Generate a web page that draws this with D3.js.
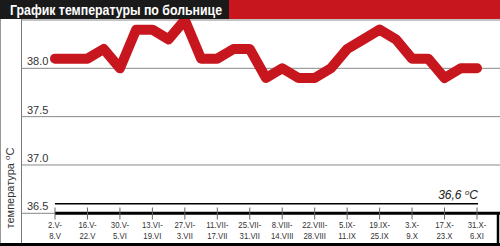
<!DOCTYPE html>
<html>
<head>
<meta charset="utf-8">
<script src="https://cdn.jsdelivr.net/npm/d3@7"></script>
<style>
  body { margin: 0; background: #fff; }
  text { font-family: "Liberation Sans", Arial, sans-serif; }
</style>
</head>
<body>
<div id="chart"></div>
<script>
// weekly temperature, 2.V .. 6.XI
const temps = [38.1, 38.1, 38.1, 38.2, 38.0, 38.4, 38.4, 38.3, 38.5, 38.1, 38.1, 38.2, 38.2, 37.9,
  38.0, 37.9, 37.9, 38.0, 38.2, 38.3, 38.4, 38.3, 38.1, 38.1, 37.9, 38.0, 38.0];
const weekLabels = [
  ["2.V-", "8.V"], ["16.V-", "22.V"], ["30.V-", "5.VI"], ["13.VI-", "19.VI"], ["27.VI-", "3.VII"],
  ["11.VII-", "17.VII"], ["25.VII-", "31.VII"], ["8.VIII-", "14.VIII"], ["22.VIII-", "28.VIII"],
  ["5.IX-", "11.IX"], ["19.IX-", "25.IX"], ["3.X-", "9.X"], ["17.X-", "23.X"], ["31.X-", "6.XI"]
];
const yTicks = [36.5, 37.0, 37.5, 38.0];
const normal = 36.6;

const w = 500, h = 246;

let svg = d3.select("#chart").append("svg")
  .attr("width", w)
  .attr("height", h);

let x = d3.scaleLinear().domain([0, temps.length - 1]).range([55, 477]);
let y = d3.scaleLinear().domain([36.5, 38.5]).range([213.3, 20]);

// frame
svg.append("line").attr("x1", 0.5).attr("x2", 0.5).attr("y1", 19).attr("y2", h)
  .attr("stroke", "#999").attr("stroke-width", 1);
svg.append("line").attr("x1", 21.5).attr("x2", 21.5).attr("y1", 19).attr("y2", h)
  .attr("stroke", "#777").attr("stroke-width", 1);

// gridlines
svg.selectAll(".grid")
  .data(yTicks.concat([38.5]))
  .enter().append("line")
  .attr("x1", 21).attr("x2", w)
  .attr("y1", d => y(d)).attr("y2", d => y(d))
  .attr("stroke", "#888").attr("stroke-width", 1);

svg.selectAll(".ylab")
  .data(yTicks)
  .enter().append("text")
  .attr("x", 27).attr("y", d => y(d) - 3)
  .attr("font-size", 11).attr("fill", "#333")
  .text(d => d.toFixed(1));

// y axis title
let yt = svg.append("text")
  .attr("transform", "translate(14,188) rotate(-90)")
  .attr("text-anchor", "middle")
  .attr("font-size", 11).attr("fill", "#333");
yt.append("tspan").text("температура ");
yt.append("tspan").attr("dy", -4).attr("font-size", 8).text("o");
yt.append("tspan").attr("dy", 4).text("C");

// bottom box
svg.append("line").attr("x1", 55).attr("x2", w).attr("y1", y(36.5)).attr("y2", y(36.5))
  .attr("stroke", "#000").attr("stroke-width", 3);
svg.append("line").attr("x1", 0).attr("x2", w).attr("y1", 244.5).attr("y2", 244.5)
  .attr("stroke", "#000").attr("stroke-width", 3);
svg.append("line").attr("x1", 498).attr("x2", 498).attr("y1", y(36.5)).attr("y2", h)
  .attr("stroke", "#000").attr("stroke-width", 2.5);

// normal temperature line
svg.append("line").attr("x1", 55).attr("x2", 478).attr("y1", y(normal)).attr("y2", y(normal))
  .attr("stroke", "#000").attr("stroke-width", 1.5);
let nt = svg.append("text")
  .attr("x", 478).attr("y", y(normal) - 5)
  .attr("text-anchor", "end")
  .attr("font-size", 12).attr("font-style", "italic").attr("fill", "#222");
nt.append("tspan").text("36,6 ");
nt.append("tspan").attr("dy", -4).attr("font-size", 8).text("o");
nt.append("tspan").attr("dy", 4).text("C");

// x ticks and labels
let tickIdx = weekLabels.map((d, i) => i * 2);
svg.selectAll(".tick")
  .data(tickIdx)
  .enter().append("line")
  .attr("x1", d => x(d)).attr("x2", d => x(d))
  .attr("y1", 207.5).attr("y2", 219.5)
  .attr("stroke", "#666").attr("stroke-width", 1);

// condensed look: squeeze each label horizontally
let lab = svg.selectAll(".xlab")
  .data(weekLabels)
  .enter().append("text")
  .attr("transform", (d, i) => "translate(" + x(i * 2) + ",0) scale(0.82,1)")
  .attr("text-anchor", "middle")
  .attr("font-size", 9.5).attr("fill", "#333");
lab.append("tspan").attr("x", 0).attr("y", 228).text(d => d[0]);
lab.append("tspan").attr("x", 0).attr("y", 239).text(d => d[1]);

// temperature line
let line = d3.line()
  .x((d, i) => x(i))
  .y(d => y(d));

svg.append("path")
  .datum(temps)
  .attr("d", line)
  .attr("fill", "none")
  .attr("stroke", "#c8161e")
  .attr("stroke-width", 10)
  .attr("stroke-linejoin", "round")
  .attr("stroke-linecap", "round");

// title bar
svg.append("rect").attr("x", 0).attr("y", 0).attr("width", 229).attr("height", 19).attr("fill", "#1a1a1a");
svg.append("rect").attr("x", 229).attr("y", 0).attr("width", w - 229).attr("height", 19).attr("fill", "#c8161e");
svg.append("text")
  .attr("x", 10).attr("y", 14.5)
  .attr("font-size", 14).attr("font-weight", "bold").attr("fill", "#fff")
  .attr("textLength", 212).attr("lengthAdjust", "spacingAndGlyphs")
  .text("График температуры по больнице");
</script>
</body>
</html>
